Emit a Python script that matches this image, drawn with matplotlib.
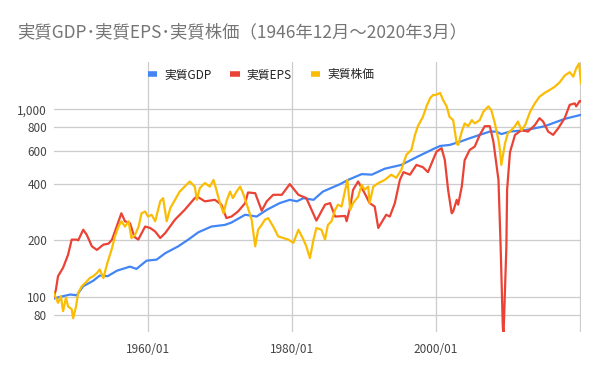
import matplotlib
matplotlib.use("Agg")
import matplotlib.pyplot as plt
from matplotlib.lines import Line2D
from matplotlib.ticker import FixedLocator, FixedFormatter, NullLocator

plt.rcParams['font.family'] = ['Noto Sans CJK JP', 'DejaVu Sans']

# values (decimal year, index level)
gdp_year = [1946.92, 1947.3, 1949.2, 1950.1, 1951.0, 1952.4, 1953.3, 1954.4, 1955.7,
            1957.5, 1958.4, 1959.8, 1961.2, 1962.4, 1964.2, 1965.6, 1967.0, 1968.8,
            1970.7, 1971.6, 1973.5, 1975.1, 1976.5, 1978.3, 1979.7, 1980.7, 1981.6,
            1983.0, 1984.3, 1986.7, 1987.8, 1989.7, 1991.1, 1992.9, 1995.2, 1997.5,
            1999.9, 2000.6, 2001.9, 2003.3, 2004.7, 2006.1, 2007.5, 2008.4, 2009.1,
            2010.3, 2012.4, 2015.1, 2017.9, 2020.0, 2020.17]
gdp_val = [98, 99, 103, 102, 114, 122, 130, 129, 138,
           145, 141, 156, 158, 171, 186, 202, 221, 237,
           242, 249, 274, 268, 291, 316, 329, 323, 336,
           329, 364, 399, 420, 451, 448, 482, 505, 560,
           620, 637, 645, 670, 700, 730, 760, 760, 737,
           760, 773, 811, 888, 930, 932]

eps_year = [1946.92, 1947.2, 1947.5, 1948.2, 1948.9, 1949.4, 1950.1, 1950.3, 1951.0,
            1951.5, 1952.2, 1952.9, 1953.8, 1954.5, 1955.0, 1955.65, 1956.3, 1956.8,
            1957.5, 1958.1, 1958.65, 1959.6, 1960.3, 1961.0, 1961.7, 1962.4, 1963.75,
            1965.1, 1966.5, 1966.8, 1967.9, 1969.3, 1970.2, 1970.9, 1971.6, 1972.5,
            1973.5, 1973.9, 1974.9, 1975.8, 1976.5, 1977.4, 1978.6, 1979.7, 1980.9,
            1982.0, 1983.4, 1984.6, 1985.3, 1986.0, 1987.4, 1987.6, 1988.1, 1988.5,
            1989.2, 1990.1, 1990.8, 1991.5, 1992.0, 1993.1, 1993.6, 1994.3, 1995.0,
            1995.5, 1996.4, 1997.3, 1998.2, 1998.9, 1999.9, 2000.1, 2000.8, 2001.25,
            2001.7, 2002.2, 2002.4, 2002.9, 2003.1, 2003.6, 2004.0, 2004.7, 2005.4,
            2006.1, 2006.8, 2007.5, 2008.0, 2008.7, 2009.0, 2009.3, 2009.4, 2009.8,
            2009.9, 2010.3, 2011.0, 2011.9, 2012.8, 2013.75, 2014.4, 2014.9, 2015.6,
            2016.3, 2017.0, 2017.9, 2018.6, 2019.3, 2019.5, 2020.0, 2020.17]
eps_val = [100, 109, 129, 143, 168, 202, 202, 200, 228,
           214, 186, 178, 190, 192, 202, 237, 279, 253,
           247, 209, 202, 237, 233, 223, 206, 219, 258,
           291, 336, 343, 323, 329, 310, 263, 268, 285,
           316, 360, 357, 288, 323, 350, 350, 399, 350,
           336, 255, 310, 316, 268, 270, 253, 303, 372,
           412, 357, 316, 303, 233, 274, 268, 316, 420,
           462, 448, 505, 491, 462, 572, 595, 620, 535,
           372, 279, 285, 329, 310, 387, 535, 607, 632,
           730, 812, 812, 670, 420, 186, 70, 62, 186,
           372, 590, 730, 773, 760, 822, 896, 860, 760,
           730, 791, 896, 1055, 1074, 1035, 1108, 1100]

stock_year = [1946.92, 1947.5, 1947.9, 1948.2, 1948.6, 1948.9, 1949.4, 1949.6, 1950.0,
              1950.3, 1950.8, 1951.5, 1951.9, 1952.4, 1952.9, 1953.3, 1953.8, 1954.3,
              1955.0, 1955.4, 1955.9, 1956.3, 1956.8, 1957.3, 1957.7, 1958.2, 1958.7,
              1959.1, 1959.6, 1960.0, 1960.5, 1961.0, 1961.7, 1962.1, 1962.6, 1963.1,
              1963.75, 1964.4, 1965.1, 1965.8, 1966.5, 1966.8, 1967.2, 1967.9, 1968.6,
              1969.1, 1969.5, 1970.0, 1970.5, 1970.9, 1971.4, 1971.8, 1972.3, 1972.8,
              1973.2, 1973.9, 1974.4, 1974.9, 1975.3, 1975.8, 1976.25, 1976.7, 1977.4,
              1978.1, 1978.8, 1979.5, 1980.2, 1980.9, 1981.6, 1982.0, 1982.5, 1983.0,
              1983.4, 1984.1, 1984.6, 1985.0, 1985.5, 1986.0, 1986.4, 1986.9, 1987.4,
              1987.7, 1988.1, 1988.5, 1989.2, 1989.7, 1990.1, 1990.6, 1990.8, 1991.3,
              1992.0, 1992.9, 1993.8, 1994.5, 1995.2, 1995.9, 1996.6, 1997.1, 1997.5,
              1998.2, 1998.7, 1999.2, 1999.6, 1999.9, 2000.6, 2001.0, 2001.5, 2001.9,
              2002.4, 2002.9, 2003.1, 2003.6, 2004.0, 2004.5, 2005.0, 2005.4, 2006.1,
              2006.6, 2007.3, 2007.7, 2008.2, 2008.7, 2008.9, 2009.1, 2009.6, 2010.0,
              2010.3, 2011.0, 2011.4, 2011.9, 2012.4, 2013.1, 2013.75, 2014.4, 2015.1,
              2015.8, 2016.5, 2017.2, 2017.9, 2018.6, 2019.1, 2019.5, 2019.9, 2020.17]
stock_val = [105, 93, 101, 84, 99, 89, 86, 77, 89,
             105, 114, 121, 126, 129, 134, 140, 126, 149,
             182, 210, 237, 253, 237, 253, 206, 214, 237,
             279, 285, 268, 274, 253, 323, 336, 253, 297,
             329, 364, 387, 412, 387, 329, 380, 404, 387,
             420, 372, 316, 279, 323, 364, 336, 364, 387,
             357, 297, 258, 186, 228, 242, 258, 263, 237,
             210, 206, 202, 194, 228, 202, 186, 161, 202,
             233, 228, 202, 242, 253, 291, 310, 303, 372,
             420, 291, 316, 342, 396, 372, 387, 316, 387,
             404, 420, 448, 431, 475, 572, 607, 730, 812,
             910, 1035, 1145, 1190, 1190, 1220, 1120, 1035, 910,
             875, 655, 645, 760, 840, 812, 875, 840, 875,
             970, 1035, 990, 840, 687, 607, 505, 655, 745,
             760, 812, 860, 773, 822, 970, 1074, 1165, 1220,
             1265, 1315, 1390, 1510, 1575, 1490, 1650, 1750, 1375]

y_ticks = [80, 100, 200, 400, 600, 800, 1000]
y_labels = ['80', '100', '200', '400', '600', '800', '1,000']
x_ticks = [1960, 1980, 2000]
x_labels = ['1960/01', '1980/01', '2000/01']

BLUE = '#4285F4'
RED = '#EA4335'
YELLOW = '#FBBC04'

fig = plt.figure(figsize=(6, 3.71), dpi=100)
ax = fig.add_axes([0.09, 0.105, 0.878, 0.728])

ax.plot(gdp_year, gdp_val, color=BLUE, lw=1.6, zorder=3)
ax.plot(eps_year, eps_val, color=RED, lw=1.6, zorder=4)
ax.plot(stock_year, stock_val, color=YELLOW, lw=1.6, zorder=5)

ax.set_yscale('log')
ax.set_ylim(65, 1785)
ax.set_xlim(1946.94, 2020.14)

ax.yaxis.set_major_locator(FixedLocator(y_ticks))
ax.yaxis.set_major_formatter(FixedFormatter(y_labels))
ax.yaxis.set_minor_locator(NullLocator())
ax.set_xticks(x_ticks)
ax.set_xticklabels(x_labels)

for y in y_ticks:
    ax.axhline(y, color='#cccccc', lw=0.9, zorder=1)
for x in [1960, 1980, 2000, 2020]:
    ax.axvline(x, color='#cccccc', lw=0.9, zorder=1)

for s in ax.spines.values():
    s.set_visible(False)
ax.tick_params(length=0, labelsize=8.5, colors='#444444', pad=5)
ax.tick_params(axis='x', pad=8)

fig.text(0.028, 0.913, '実質GDP･実質EPS･実質株価（1946年12月～2020年3月）',
         fontsize=12.5, color='#757575', va='center', ha='left')

handles = [Line2D([], [], color=c, lw=4, solid_capstyle='butt') for c in (BLUE, RED, YELLOW)]
fig.legend(handles, ['実質GDP', '実質EPS', '実質株価'], loc='center',
           bbox_to_anchor=(0.435, 0.798), ncol=3, frameon=False, fontsize=8.5,
           handlelength=0.8, handletextpad=0.6, columnspacing=1.6, labelcolor='#222222')

fig.savefig('out.png', dpi=100)
